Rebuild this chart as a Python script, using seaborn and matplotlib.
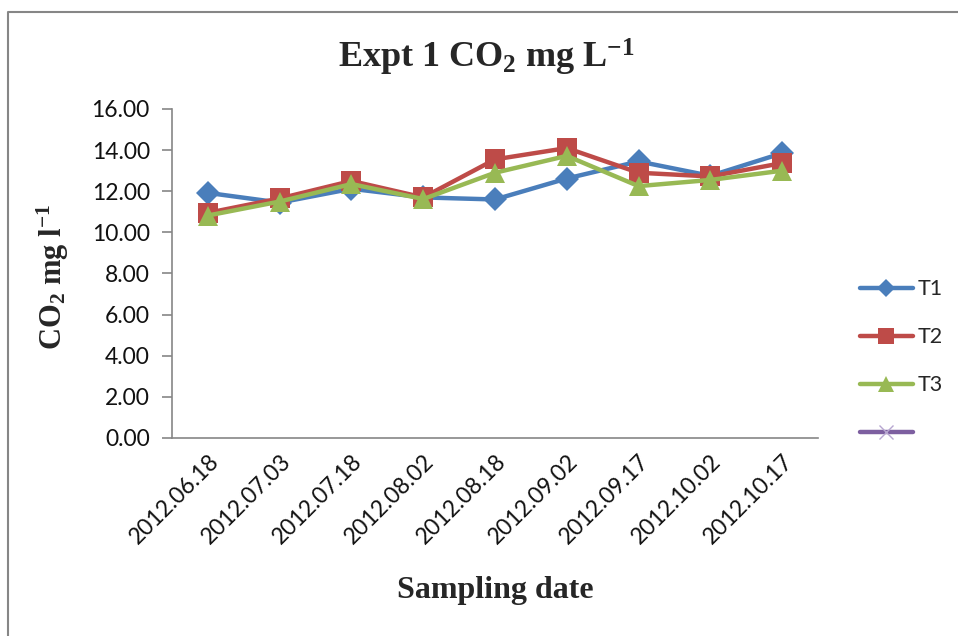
import matplotlib
matplotlib.use("Agg")
import matplotlib.pyplot as plt
from matplotlib.lines import Line2D
import numpy as np
import pandas as pd
import seaborn as sns

# Sampling dates and CO2 readings (mg per litre) for each treatment
dates = ["2012.06.18", "2012.07.03", "2012.07.18", "2012.08.02", "2012.08.18",
         "2012.09.02", "2012.09.17", "2012.10.02", "2012.10.17"]
t1 = [11.92, 11.45, 12.12, 11.70, 11.60, 12.62, 13.45, 12.75, 13.85]
t2 = [10.95, 11.65, 12.50, 11.70, 13.55, 14.10, 12.90, 12.72, 13.37]
t3 = [10.82, 11.50, 12.35, 11.62, 12.90, 13.72, 12.25, 12.55, 13.00]
series_names = ["T1", "T2", "T3"]
y_ticks = [0, 2, 4, 6, 8, 10, 12, 14, 16]

colors = {"T1": "#4A7EBB", "T2": "#BE4B48", "T3": "#98B954"}
markers = {"T1": "D", "T2": "s", "T3": "^"}
msizes = {"T1": 12, "T2": 14, "T3": 15}
extra_color = "#7D5FA0"

df = pd.DataFrame({
    "date": dates * 3,
    "value": t1 + t2 + t3,
    "series": [s for s in series_names for _ in dates],
})

sns.set_theme(style="white")
plt.rcParams["font.family"] = ["Lato", "DejaVu Sans"]
plt.rcParams["mathtext.fontset"] = "custom"
plt.rcParams["mathtext.rm"] = "Liberation Serif:bold"
plt.rcParams["mathtext.it"] = "Liberation Serif:bold"
plt.rcParams["mathtext.bf"] = "Liberation Serif:bold"

fig = plt.figure(figsize=(9.58, 6.36), dpi=100)
ax = fig.add_axes([172 / 958, 1 - 438 / 636, 646 / 958, 329 / 636])

for name in series_names:
    sub = df[df["series"] == name]
    sns.lineplot(data=sub, x="date", y="value", ax=ax, color=colors[name],
                 marker=markers[name], markersize=msizes[name],
                 markeredgewidth=0, linewidth=3.2, label=name, sort=False)

ax.set_xlim(-0.5, len(dates) - 0.5)
ax.set_ylim(0, 16)
ax.set_yticks(y_ticks)
ax.set_yticklabels([f"{v:.2f}" for v in y_ticks], fontsize=16.5, color="#111111")
ax.set_xticks(range(len(dates)))
ax.set_xticklabels(dates, rotation=45, ha="right", rotation_mode="anchor",
                   fontsize=16.5, color="#111111")

for side in ["top", "right"]:
    ax.spines[side].set_visible(False)
for side in ["left", "bottom"]:
    ax.spines[side].set_color("#868686")
    ax.spines[side].set_linewidth(1.2)
ax.tick_params(axis="y", which="major", left=True, length=7, width=1.2,
               color="#868686", pad=9, direction="out")
ax.tick_params(axis="x", which="major", bottom=False, length=0, pad=9)
ax.grid(False)

ax.set_xlabel("Sampling date", fontsize=23, fontweight="bold",
              family="Liberation Serif")
ax.xaxis.set_label_coords(0.5, (438 - 576) / 329)
ax.set_ylabel(r"CO$_2$ mg l$^{-1}$", fontsize=22, fontweight="bold",
              family="Liberation Serif")
ax.yaxis.set_label_coords((71 - 172) / 646, (438 - 277) / 329)

fig.text(486 / 958, 1 - 57 / 636, r"Expt 1 CO$_2$ mg L$^{-1}$", fontsize=26,
         fontweight="bold", family="Liberation Serif", ha="center", va="center")

handles, labels = ax.get_legend_handles_labels()
handles.append(Line2D([], [], color=extra_color, linewidth=3.2, marker="x",
                      markersize=12, markeredgewidth=1.0,
                      markeredgecolor="#B7A6D0"))
labels.append("")
ax.legend(handles, labels, loc="center left", bbox_to_anchor=(0.877, 0.432),
          bbox_transform=fig.transFigure, frameon=False, fontsize=15.5,
          handlelength=2.5, handletextpad=0.2, labelspacing=1.3,
          markerscale=0.8)

# Chart-area frame along the top and left edges
fig.add_artist(Line2D([8 / 958, 8 / 958, 1.0], [0.0, 1 - 12 / 636, 1 - 12 / 636],
                      transform=fig.transFigure, color="#868686", linewidth=1.5))

fig.savefig("out.png", dpi=100, facecolor="white")
